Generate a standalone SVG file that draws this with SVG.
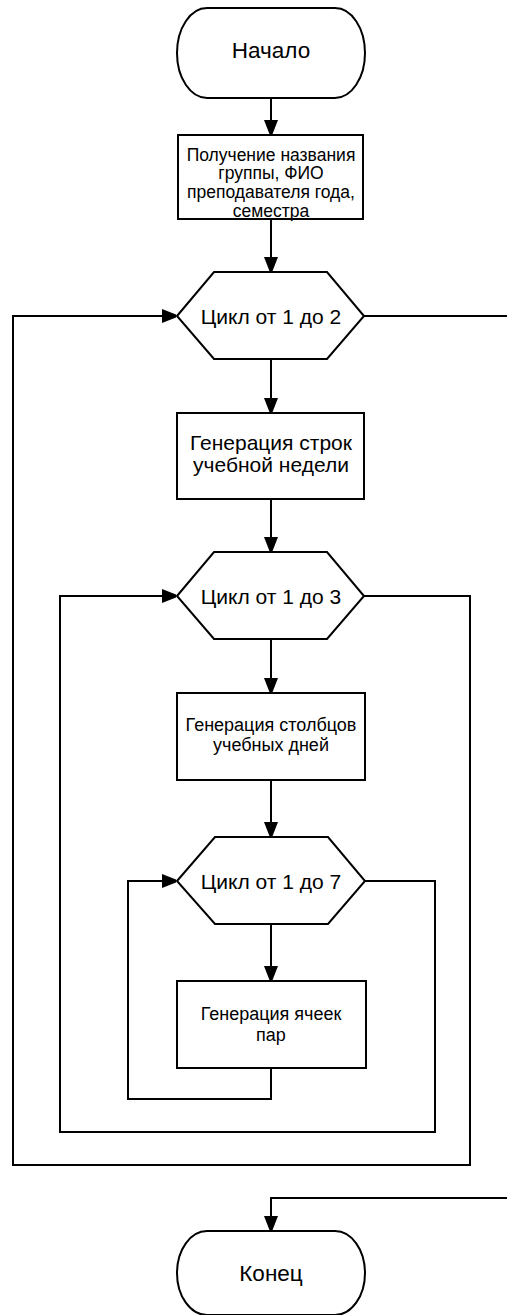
<svg xmlns="http://www.w3.org/2000/svg" width="507" height="1315" viewBox="0 0 507 1315">
<defs>
<marker id="arr" markerWidth="14" markerHeight="18" viewBox="0 0 14 18" refX="14" refY="7" orient="auto" markerUnits="userSpaceOnUse">
<path d="M0,0 L18,7 L0,14 Z" fill="#000"/>
</marker>
<style>
.s{fill:#fff;stroke:#000;stroke-width:2}
.c{fill:none;stroke:#000;stroke-width:2}
text{font-family:"Liberation Sans",Arial,sans-serif;fill:#000;text-anchor:middle}
</style>
</defs>
<rect width="507" height="1315" fill="#fff"/>
<g id="connectors">
<path class="c" d="M271,98 V134" marker-end="url(#arr)"/>
<path class="c" d="M271,219 V271" marker-end="url(#arr)"/>
<path class="c" d="M271,359 V412" marker-end="url(#arr)"/>
<path class="c" d="M271,499 V551" marker-end="url(#arr)"/>
<path class="c" d="M271,639 V692" marker-end="url(#arr)"/>
<path class="c" d="M271,780 V836" marker-end="url(#arr)"/>
<path class="c" d="M271,924 V980" marker-end="url(#arr)"/>
<path class="c" d="M364,316 H507"/>
<path class="c" d="M364,596 H470 V1165 H13 V316 H176" marker-end="url(#arr)"/>
<path class="c" d="M364,881 H435 V1132 H60 V596 H176" marker-end="url(#arr)"/>
<path class="c" d="M271,1068 V1099 H128 V881 H176" marker-end="url(#arr)"/>
<path class="c" d="M507,1198 H271 V1230" marker-end="url(#arr)"/>
</g>
<g id="start">
<rect class="s" x="177" y="8" width="188" height="90" rx="30" ry="45"/>
<text x="271" y="58" font-size="22.5">Начало</text>
</g>
<g id="input">
<rect class="s" x="178" y="135" width="185" height="84"/>
<text font-size="17.5"><tspan x="271" y="161">Получение названия</tspan><tspan x="271" y="179">группы, ФИО</tspan><tspan x="271" y="198">преподавателя года,</tspan><tspan x="271" y="217">семестра</tspan></text>
</g>
<g id="loop1">
<polygon class="s" points="177,316 214,272 327,272 364,316 327,359 214,359"/>
<text x="271" y="323.5" font-size="21">Цикл от 1 до 2</text>
</g>
<g id="rows">
<rect class="s" x="177" y="413" width="187" height="86"/>
<text font-size="21"><tspan x="271" y="450">Генерация строк</tspan><tspan x="271" y="472">учебной недели</tspan></text>
</g>
<g id="loop2">
<polygon class="s" points="177,596 214,552 327,552 364,596 327,639 214,639"/>
<text x="271" y="603.5" font-size="21">Цикл от 1 до 3</text>
</g>
<g id="cols">
<rect class="s" x="177" y="693" width="188" height="87"/>
<text font-size="18"><tspan x="271" y="731">Генерация столбцов</tspan><tspan x="271" y="751">учебных дней</tspan></text>
</g>
<g id="loop3">
<polygon class="s" points="177,881 215,837 328,837 365,881 328,924 215,924"/>
<text x="271" y="888.5" font-size="21">Цикл от 1 до 7</text>
</g>
<g id="cells">
<rect class="s" x="177" y="981" width="189" height="87"/>
<text font-size="18"><tspan x="271" y="1020">Генерация ячеек</tspan><tspan x="271" y="1041">пар</tspan></text>
</g>
<g id="end">
<rect class="s" x="177" y="1231" width="188" height="84" rx="30" ry="42"/>
<text x="271" y="1281" font-size="22.5">Конец</text>
</g>
</svg>
